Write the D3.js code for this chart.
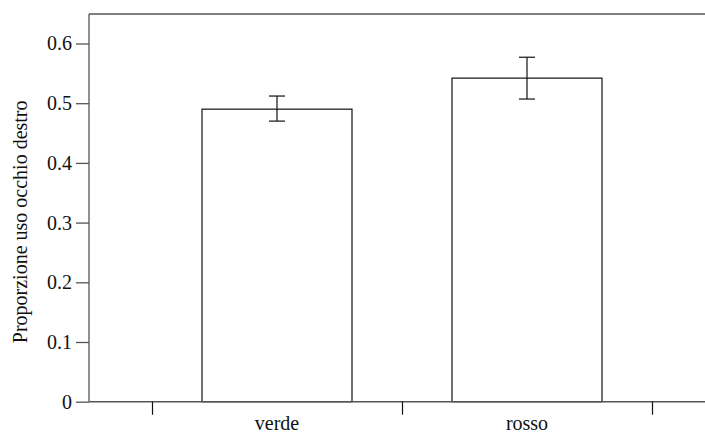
<!DOCTYPE html>
<html>
<head>
<meta charset="utf-8">
<script src="https://cdn.jsdelivr.net/npm/d3@7"></script>
<style>
  body { margin: 0; background: #fff; }
  svg { display: block; font-family: "Liberation Serif", "Times New Roman", serif; }
</style>
</head>
<body>
<div id="chart"></div>
<script>
// data
const categories = ["verde", "rosso"];
const proportions = [0.490, 0.542];
const errLow = [0.470, 0.507];
const errHigh = [0.512, 0.577];
const yTicks = [0, 0.1, 0.2, 0.3, 0.4, 0.5, 0.6];

const data = categories.map((c, i) => ({
  cat: c, value: proportions[i], lo: errLow[i], hi: errHigh[i]
}));

//size
const width = 705, height = 435;
const axisLeftX = 89, topY = 14, baseY = 401.7;
const fontSize = 20;

//scale
const yScale = d3.scaleLinear().domain([0, 0.65]).range([baseY, baseY - 0.65 * 597]);
const xScale = d3.scaleBand().domain(categories).range([152, 652]).padding(0);
const xEdge = d3.scaleLinear().domain([0, categories.length]).range([152, 652]);
const barW = xScale.bandwidth() * 0.6;

const svg = d3.select("#chart").append("svg")
  .attr("width", width).attr("height", height);

//frame top line
svg.append("line")
  .attr("x1", axisLeftX).attr("x2", 720)
  .attr("y1", topY).attr("y2", topY)
  .attr("stroke", "#555").attr("stroke-width", 1.3);

//bars
svg.append("g").selectAll("rect")
  .data(data)
  .join("rect")
  .attr("x", d => xScale(d.cat) + (xScale.bandwidth() - barW) / 2)
  .attr("y", d => yScale(d.value))
  .attr("width", barW)
  .attr("height", d => baseY - yScale(d.value))
  .attr("fill", "#fff")
  .attr("stroke", "#111")
  .attr("stroke-width", 1.2);

//error bars
const eb = svg.append("g").attr("stroke", "#111").attr("stroke-width", 1.2);
data.forEach(d => {
  const cx = xScale(d.cat) + xScale.bandwidth() / 2;
  eb.append("line").attr("x1", cx).attr("x2", cx)
    .attr("y1", yScale(d.lo)).attr("y2", yScale(d.hi));
  [d.lo, d.hi].forEach(v => {
    eb.append("line").attr("x1", cx - 8).attr("x2", cx + 8)
      .attr("y1", yScale(v)).attr("y2", yScale(v));
  });
});

//y-axis
const yAxis = svg.append("g")
  .attr("transform", `translate(${axisLeftX},0)`)
  .attr("font-family", null).attr("font-size", null)
  .call(d3.axisLeft(yScale).tickValues(yTicks)
    .tickFormat(d => d === 0 ? "0" : d3.format(".1f")(d))
    .tickSize(13).tickPadding(4).tickSizeOuter(0));
yAxis.attr("font-family", "Liberation Serif, serif").attr("font-size", fontSize);
yAxis.select(".domain").attr("d", `M0,${baseY}V${topY}`);
yAxis.selectAll("path,line").attr("stroke", "#555").attr("stroke-width", 1.3);
yAxis.selectAll("text").attr("fill", "#111");

//x-axis line
svg.append("line")
  .attr("x1", axisLeftX).attr("x2", 720)
  .attr("y1", baseY).attr("y2", baseY)
  .attr("stroke", "#555").attr("stroke-width", 1.5);

//x ticks at band edges
const xTickG = svg.append("g")
  .attr("transform", `translate(0,${baseY})`)
  .call(d3.axisBottom(xEdge).tickValues(d3.range(categories.length + 1))
    .tickFormat("").tickSize(13).tickSizeOuter(0));
xTickG.select(".domain").remove();
xTickG.selectAll("line").attr("stroke", "#111").attr("stroke-width", 1.2);

//x labels
const xLab = svg.append("g")
  .attr("transform", `translate(0,${baseY})`)
  .call(d3.axisBottom(xScale).tickSize(0).tickPadding(14));
xLab.attr("font-family", "Liberation Serif, serif").attr("font-size", fontSize);
xLab.select(".domain").remove();
xLab.selectAll("text").attr("fill", "#111");

//y label
svg.append("text")
  .attr("transform", `translate(27,${(topY + baseY) / 2 + 14}) rotate(-90)`)
  .attr("text-anchor", "middle")
  .attr("font-size", fontSize)
  .attr("fill", "#111")
  .text("Proporzione uso occhio destro");
</script>
</body>
</html>
